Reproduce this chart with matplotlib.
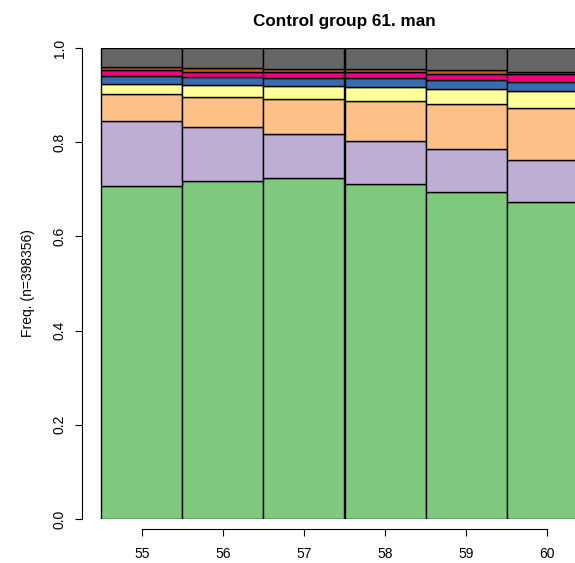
import numpy as np
import matplotlib
matplotlib.use("Agg")
import matplotlib.pyplot as plt

plt.rcParams["font.family"] = ["Liberation Sans", "DejaVu Sans"]

ages = [55, 56, 57, 58, 59, 60]

# cumulative tops, bottom -> top
green = [0.707, 0.717, 0.724, 0.711, 0.694, 0.672]
purple = [0.846, 0.832, 0.818, 0.803, 0.786, 0.763]
orange = [0.902, 0.897, 0.892, 0.887, 0.881, 0.873]
yellow = [0.924, 0.921, 0.919, 0.917, 0.912, 0.908]
blue = [0.940, 0.938, 0.936, 0.936, 0.931, 0.928]
pink = [0.953, 0.950, 0.949, 0.948, 0.945, 0.944]
brown = [0.960, 0.958, 0.956, 0.955, 0.953, 0.950]
gray = [1.0, 1.0, 1.0, 1.0, 1.0, 1.0]

tops = [green, purple, orange, yellow, blue, pink, brown, gray]
colors = ["#7FC97F", "#BEAED4", "#FDC086", "#FFFF99",
          "#386CB0", "#F0027F", "#BF5B17", "#666666"]

fig = plt.figure(figsize=(5.75, 5.63), dpi=100)
W, H = 575, 563
ax = fig.add_axes([82 / W, 44 / H, 525 / W, 471 / H])

bottom = np.zeros(len(ages))
for top, c in zip(tops, colors):
    top = np.array(top)
    ax.bar(ages, top - bottom, bottom=bottom, width=1.0, color=c,
           edgecolor="black", linewidth=1.0)
    bottom = top

ax.set_xlim(54.26, 60.74)
ax.set_ylim(0, 1)

for s in ["top", "right"]:
    ax.spines[s].set_visible(False)
ax.spines["left"].set_bounds(0, 1)
ax.spines["bottom"].set_bounds(55, 60)
ax.spines["bottom"].set_position(("outward", 7.2))
ax.spines["left"].set_linewidth(0.8)
ax.spines["bottom"].set_linewidth(0.8)

ax.set_xticks(ages)
ax.set_xticklabels([str(a) for a in ages])
ax.set_yticks([0, 0.2, 0.4, 0.6, 0.8, 1.0])
ax.set_yticklabels(["0.0", "0.2", "0.4", "0.6", "0.8", "1.0"],
                   rotation=90, va="center")
ax.tick_params(axis="both", length=5, width=0.8, labelsize=10)
ax.tick_params(axis="x", pad=8)
ax.tick_params(axis="y", pad=6)

ax.set_ylabel("Freq. (n=398356)", fontsize=10, labelpad=13)
ax.set_title("Control group 61. man", fontsize=12.3, fontweight="bold", pad=16)

fig.savefig("out.png", dpi=100)
